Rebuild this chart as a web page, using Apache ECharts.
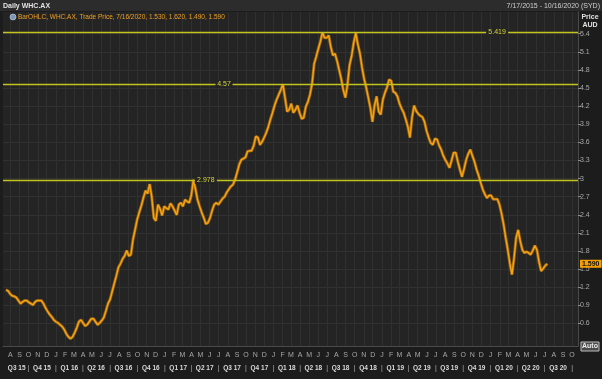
<!DOCTYPE html>
<html><head><meta charset="utf-8">
<script src="https://cdn.jsdelivr.net/npm/echarts@6/dist/echarts.min.js"></script>
<style>html,body{margin:0;padding:0;background:#1c1c1c;}#c{width:602px;height:379px;}</style>
</head><body><div id="c"></div>
<script>
// ---- data ----
const startYear = 2015, startMonth = 6, startDay = 17; // first weekly point 2015-07-17
const weeklyClose = [
1.16,1.14,1.09,1.06,1.05,1.03,0.98,0.93,0.96,0.98,
0.98,0.95,0.93,0.91,0.96,0.98,0.98,0.98,0.93,0.86,
0.80,0.75,0.71,0.66,0.63,0.61,0.58,0.55,0.50,0.43,
0.38,0.35,0.38,0.45,0.53,0.63,0.66,0.61,0.56,0.58,
0.63,0.68,0.68,0.63,0.58,0.61,0.65,0.70,0.81,0.93,
1.00,1.13,1.26,1.39,1.53,1.59,1.67,1.72,1.81,1.72,
1.74,1.99,2.15,2.32,2.44,2.55,2.68,2.80,2.75,2.91,
2.70,2.35,2.30,2.57,2.50,2.39,2.54,2.51,2.49,2.59,
2.54,2.47,2.40,2.57,2.60,2.54,2.65,2.62,2.60,2.72,
2.98,2.83,2.65,2.54,2.44,2.35,2.25,2.27,2.35,2.47,
2.57,2.60,2.57,2.62,2.67,2.70,2.77,2.82,2.87,2.90,
2.98,3.10,3.23,3.31,3.33,3.35,3.45,3.46,3.46,3.55,
3.70,3.68,3.56,3.61,3.68,3.76,3.86,3.98,4.09,4.21,
4.31,4.39,4.47,4.56,4.34,4.11,4.14,4.24,4.09,4.14,
4.21,4.09,3.99,4.01,4.19,4.27,4.39,4.57,4.90,5.02,
5.15,5.27,5.42,5.33,5.33,5.37,5.18,5.04,5.07,4.95,
4.80,4.65,4.47,4.34,4.55,4.88,5.03,5.25,5.41,5.22,
5.07,4.84,4.65,4.51,4.34,4.17,3.94,4.21,4.36,4.11,
4.06,4.31,4.42,4.51,4.64,4.62,4.44,4.42,4.36,4.24,
4.16,4.09,3.98,3.86,3.68,4.01,4.21,4.12,4.07,4.04,
4.02,3.94,3.79,3.68,3.59,3.56,3.66,3.65,3.55,3.48,
3.38,3.31,3.25,3.18,3.30,3.43,3.43,3.28,3.15,3.03,
3.16,3.31,3.41,3.48,3.38,3.28,3.15,3.05,2.93,2.82,
2.74,2.68,2.72,2.72,2.66,2.66,2.66,2.57,2.42,2.24,
2.02,1.82,1.59,1.41,1.68,2.02,2.15,1.96,1.82,1.77,
1.79,1.77,1.74,1.81,1.89,1.82,1.62,1.47,1.51,1.56,
1.59
];
const levelValues = [5.419, 4.57, 2.978];
const levelLabels = ['5.419', '4.57', '2.978'];
const yTicks = [0.6,0.9,1.2,1.5,1.8,2.1,2.4,2.7,3,3.3,3.6,3.9,4.2,4.5,4.8,5.1,5.4];
const monthLetters = ['J','F','M','A','M','J','J','A','S','O','N','D'];
const quarterLabels = ['Q3 15','Q4 15','Q1 16','Q2 16','Q3 16','Q4 16','Q1 17','Q2 17','Q3 17','Q4 17',
  'Q1 18','Q2 18','Q3 18','Q4 18','Q1 19','Q2 19','Q3 19','Q4 19','Q1 20','Q2 20','Q3 20'];
const lastValue = 1.59;
const lastLabel = '1.590';
const legendText = 'BarOHLC, WHC.AX, Trade Price, 7/16/2020, 1.530, 1.620, 1.490, 1.590';
const titleText = 'Daily WHC.AX';
const rangeText = '7/17/2015 - 10/16/2020 (SYD)';

// ---- build ----
const FONT = 'Liberation Sans, Arial, sans-serif';
const axisMin = new Date(2015, 6, 7).getTime();
const axisMax = new Date(2020, 9, 21).getTime();
const seriesData = weeklyClose.map((v, i) => [new Date(startYear, startMonth, startDay + 7 * i).getTime(), v]);

const monthTicks = [];
for (let k = 0; ; k++) {
  const d = new Date(2015, 7 + k, 1);
  if (d.getTime() > new Date(2020, 9, 1).getTime()) break;
  monthTicks.push(d.getTime());
}
const quarterMid = [], quarterSep = [];
for (let q = 0; q < quarterLabels.length; q++) {
  const qs = new Date(2015, 6 + 3 * q, 1).getTime();
  const qe = new Date(2015, 9 + 3 * q, 1).getTime();
  const s = Math.max(qs, axisMin);
  quarterMid.push(q === 0 ? (s + qe) / 2 + 3 * 86400000 : new Date(2015, 7 + 3 * q, 15).getTime());
  quarterSep.push(qe);
}
function qLabel(v) {
  let best = 0, bd = Infinity;
  quarterMid.forEach((t, i) => { const d = Math.abs(t - v); if (d < bd) { bd = d; best = i; } });
  return quarterLabels[best];
}

const levelLabelDates = [new Date(2020, 0, 23).getTime(), new Date(2017, 6, 19).getTime(), new Date(2017, 4, 19).getTime()];
const levelLabelW = [22, 17, 22];
const LEVEL_COLOR = '#c4c41e';

const chart = echarts.init(document.getElementById('c'), null, {renderer: 'canvas'});
const baseX = {
  type: 'value', min: axisMin, max: axisMax, gridIndex: 0, position: 'bottom',
  axisLine: {show: false}, axisTick: {show: false}, splitLine: {show: false}
};
chart.setOption({
  animation: false,
  backgroundColor: '#1c1c1c',
  grid: {left: 3, right: 24, top: 12, bottom: 33, show: true, backgroundColor: '#242424', borderWidth: 0},
  xAxis: [
    Object.assign({}, baseX, {
      axisLine: {show: true, lineStyle: {color: '#4a4a4a'}},
      axisTick: {show: false, customValues: monthTicks},
      splitLine: {show: true, lineStyle: {color: '#303030', width: 1}},
      axisLabel: {customValues: monthTicks, margin: 6, color: '#a8a8a8', fontSize: 7, fontFamily: FONT,
        formatter: v => monthLetters[new Date(+v).getMonth()]}
    }),
    Object.assign({}, baseX, {
      offset: 13,
      axisLabel: {customValues: quarterMid, margin: 6, color: '#dadada', fontSize: 6.5, fontWeight: 'bold', fontFamily: FONT,
        formatter: v => qLabel(+v)}
    }),
    Object.assign({}, baseX, {
      offset: 13,
      axisLabel: {customValues: quarterSep, margin: 6, color: '#b0b0b0', fontSize: 7, fontFamily: FONT, formatter: () => '|'}
    })
  ],
  yAxis: {
    type: 'value', position: 'right', min: 0.2284, max: 5.7584,
    axisLine: {show: true, lineStyle: {color: '#4a4a4a'}},
    axisTick: {show: true, length: 3, customValues: yTicks, lineStyle: {color: '#8a8a8a'}},
    splitLine: {show: true, lineStyle: {color: '#313131'}},
    axisLabel: {customValues: yTicks, margin: 2, color: '#a8a8a8', fontSize: 7, fontFamily: FONT,
      formatter: v => String(+(+v).toFixed(2))}
  },
  series: [{
    type: 'line', xAxisIndex: 0, data: seriesData, showSymbol: false, symbol: 'none', silent: true,
    lineStyle: {color: '#9a6410', width: 3}, itemStyle: {color: '#9a6410'}, z: 2
  }, {
    type: 'line', xAxisIndex: 0, data: seriesData, showSymbol: false, symbol: 'none',
    lineStyle: {color: '#f7a414', width: 1.4}, itemStyle: {color: '#f7a414'}, z: 3,
    markLine: {
      silent: true, symbol: 'none', animation: false,
      lineStyle: {color: LEVEL_COLOR, width: 1.3, type: 'solid', opacity: 1},
      emphasis: {disabled: true},
      data: levelValues.map(v => ({yAxis: v, lineStyle: {color: LEVEL_COLOR, width: 1.3, type: 'solid'}, label: {show: false}}))
        .concat([{yAxis: lastValue, lineStyle: {color: 'rgba(0,0,0,0)', width: 0},
          label: {show: true, position: 'end', distance: 2, formatter: lastLabel, backgroundColor: '#f5a000',
            color: '#111', fontSize: 7, fontWeight: 'bold', fontFamily: FONT, padding: [1, 2, 0, 2]}}])
    },
    markPoint: {
      silent: true, animation: false,
      data: levelValues.map((v, i) => ({
        coord: [levelLabelDates[i], v], name: levelLabels[i],
        symbol: 'rect', symbolSize: [levelLabelW[i], 8],
        itemStyle: {color: '#242424'},
        label: {show: true, position: 'inside', formatter: levelLabels[i], color: '#d4d43a', fontSize: 7, fontFamily: FONT}
      }))
    }
  }],
  graphic: [
    {type: 'rect', left: 0, top: 0, shape: {width: 602, height: 11}, style: {fill: '#2c2c2c'}, z: 10},
    {type: 'text', x: 3, y: 6, style: {text: titleText, fill: '#e2e2e2', font: 'bold 7px ' + FONT, verticalAlign: 'middle'}, z: 11},
    {type: 'text', x: 600, y: 6, style: {text: rangeText, fill: '#cfcfcf', font: '7px ' + FONT, align: 'right', verticalAlign: 'middle'}, z: 11},
    {type: 'circle', shape: {cx: 13, cy: 17, r: 3}, style: {fill: '#7f98b8', stroke: '#c8d4e4', lineWidth: 0.6}, z: 11},
    {type: 'text', x: 18, y: 17, style: {text: legendText, fill: '#f0a020', font: '6.5px ' + FONT, verticalAlign: 'middle'}, z: 11},
    {type: 'text', x: 590, y: 17, style: {text: 'Price', fill: '#e2e2e2', font: 'bold 7px ' + FONT, align: 'center', verticalAlign: 'middle'}, z: 11},
    {type: 'text', x: 590, y: 25, style: {text: 'AUD', fill: '#e2e2e2', font: 'bold 7px ' + FONT, align: 'center', verticalAlign: 'middle'}, z: 11},
    {type: 'rect', shape: {x: 581, y: 342, width: 18, height: 9}, style: {fill: '#4a4a4a', stroke: '#bdbdbd', lineWidth: 1}, z: 11},
    {type: 'text', x: 590, y: 346.5, style: {text: 'Auto', fill: '#f0f0f0', font: 'bold 7px ' + FONT, align: 'center', verticalAlign: 'middle'}, z: 12}
  ]
});
</script></body></html>
